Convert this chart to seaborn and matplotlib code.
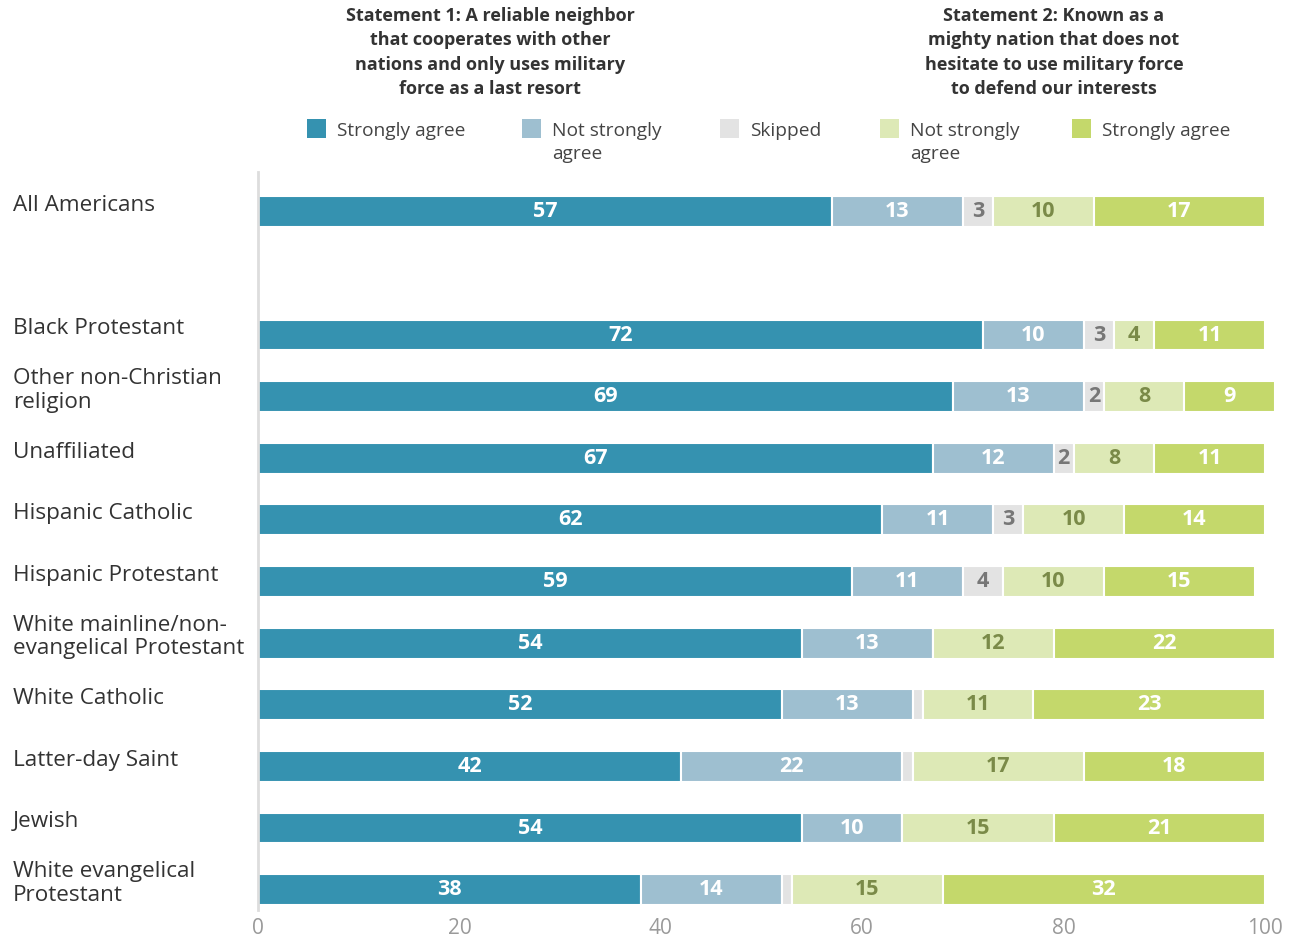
import pandas as pd
import matplotlib.pyplot as plt
import matplotlib.transforms as mtransforms
from matplotlib.patches import Rectangle
import seaborn as sns

# data
groups = ["All Americans", "Black Protestant", "Other non-Christian\nreligion",
          "Unaffiliated", "Hispanic Catholic", "Hispanic Protestant",
          "White mainline/non-\nevangelical Protestant", "White Catholic",
          "Latter-day Saint", "Jewish", "White evangelical\nProtestant"]
s1_strongly = [57, 72, 69, 67, 62, 59, 54, 52, 42, 54, 38]
s1_not_strongly = [13, 10, 13, 12, 11, 11, 13, 13, 22, 10, 14]
skipped = [3, 3, 2, 2, 3, 4, 0, 1, 1, 0, 1]
s2_not_strongly = [10, 4, 8, 8, 10, 10, 12, 11, 17, 15, 15]
s2_strongly = [17, 11, 9, 11, 14, 15, 22, 23, 18, 21, 32]

legend_labels = ["Strongly agree", "Not strongly\nagree", "Skipped",
                 "Not strongly\nagree", "Strongly agree"]
title_1 = ("Statement 1: A reliable neighbor\nthat cooperates with other\n"
           "nations and only uses military\nforce as a last resort")
title_2 = ("Statement 2: Known as a\nmighty nation that does not\n"
           "hesitate to use military force\nto defend our interests")

colors = ["#3592b0", "#9ebfd0", "#e3e3e3", "#dde9b6", "#c4d86b"]
text_colors = ["white", "white", "#777777", "#7a8a48", "white"]

sns.set_style("white")
plt.rcParams["font.family"] = ["Open Sans", "DejaVu Sans"]

df = pd.DataFrame({"group": groups,
                   "s1s": s1_strongly, "s1n": s1_not_strongly,
                   "skip": skipped,
                   "s2n": s2_not_strongly, "s2s": s2_strongly})
cols = ["s1s", "s1n", "skip", "s2n", "s2s"]
# empty slot between "All Americans" and the rest
order = [groups[0], " "] + groups[1:]

W, H = 1297, 941
fig = plt.figure(figsize=(W / 100, H / 100), dpi=100)
ax = fig.add_axes([258 / W, 31 / H, 1007 / W, 738 / H])

left = pd.Series([0] * len(df), dtype=float)
for col, c, tc in zip(cols, colors, text_colors):
    sns.barplot(data=df, x=col, y="group", order=order, color=c,
                saturation=1, width=0.5, errorbar=None, left=left.values,
                edgecolor="white", linewidth=1.5, clip_on=False, ax=ax)
    for i, row in df.iterrows():
        v = row[col]
        pos = order.index(row["group"])
        if v >= 2:
            ax.text(left[i] + v / 2, pos, f"{v:g}", ha="center", va="center",
                    color=tc, fontsize=15.5, fontweight="bold")
    left = left + df[col]

ax.set_xlim(0, 100)
ax.set_ylim(11.33, -0.645)
ax.set_xticks([0, 20, 40, 60, 80, 100])
ax.set_yticks([])
ax.set_xlabel("")
ax.set_ylabel("")
ax.tick_params(axis="x", length=0, pad=6, labelcolor="#9a9a9a", labelsize=15)
for s in ["top", "right", "bottom"]:
    ax.spines[s].set_visible(False)
ax.spines["left"].set_color("#dddddd")
ax.spines["left"].set_linewidth(2)

# category labels, left aligned at the figure edge
trans = mtransforms.blended_transform_factory(ax.transAxes, ax.transData)
for g in groups:
    ax.text((13 - 258) / 1007, order.index(g) - 0.1, g, transform=trans,
            ha="left", va="center", fontsize=16.2, color="#333333",
            linespacing=1.15)

# statement titles
fig.text(490 / W, 1 - 7 / H, title_1, ha="center", va="top", fontsize=13,
         fontweight="bold", color="#333333", linespacing=1.45)
fig.text(1054 / W, 1 - 7 / H, title_2, ha="center", va="top", fontsize=13,
         fontweight="bold", color="#333333", linespacing=1.45)

# legend drawn by hand
box_x = [307, 522, 720, 880, 1072]
for bx, c, lab in zip(box_x, colors, legend_labels):
    fig.patches.append(Rectangle((bx / W, 1 - 138 / H), 19 / W, 19 / H,
                                 facecolor=c, edgecolor="none",
                                 transform=fig.transFigure, figure=fig))
    fig.text((bx + 30) / W, 1 - 122 / H, lab, ha="left", va="top",
             fontsize=13.8, color="#444444", linespacing=1.38)

fig.savefig("out.png", dpi=100)
